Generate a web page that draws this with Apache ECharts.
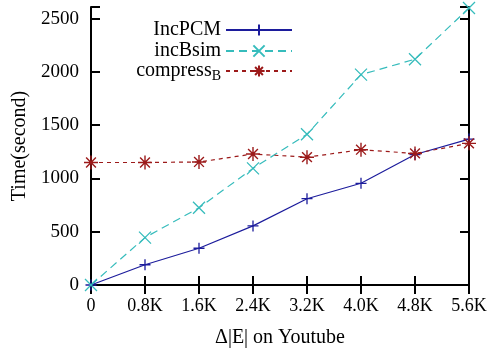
<!DOCTYPE html>
<html><head><meta charset="utf-8">
<script src="https://cdn.jsdelivr.net/npm/echarts@6/dist/echarts.min.js"></script>
<style>html,body{margin:0;padding:0;background:#fff}#c{width:490px;height:353px}</style>
</head><body><div id="c"></div>
<script>
var categories = ['0','0.8K','1.6K','2.4K','3.2K','4.0K','4.8K','5.6K'];
var incPCM = [0, 190, 345, 555, 810, 955, 1225, 1370];
var incBsim = [0, 445, 725, 1095, 1415, 1975, 2120, 2600];
var compressB = [1150, 1150, 1155, 1230, 1200, 1270, 1235, 1330];
var yTicks = [0, 500, 1000, 1500, 2000, 2500];

var FONT = 'Liberation Serif';
var plusPath = 'path://M0,5L10,5M5,0L5,10';
var crossPath = 'path://M0,0L10,10M10,0L0,10';
var starPath = 'path://M0,5L10,5M5,0L5,10M1.5,1.5L8.5,8.5M8.5,1.5L1.5,8.5';

var chart = echarts.init(document.getElementById('c'), null, {renderer:'canvas'});
function legendFor(name, top){
  return {
    data:[name], right:197, top:top, orient:'vertical', align:'right',
    itemWidth:66, itemHeight:14, itemGap:0, padding:0, selectedMode:false,
    textStyle:{fontFamily:FONT, fontSize:20, color:'#000',
      rich:{a:{fontFamily:FONT,fontSize:20,color:'#000'},b:{fontFamily:FONT,fontSize:14,color:'#000',verticalAlign:'bottom',padding:[10,0,0,0]}}},
    formatter:function(n){ return n==='compress' ? '{a|compress}{b|B}' : n; }
  };
}
var axisLine = {show:true, lineStyle:{color:'#000', width:2}};
chart.setOption({
  animation:false,
  grid:{left:91, right:21, top:7, bottom:66},
  legend:[legendFor('IncPCM',20), legendFor('incBsim',41), legendFor('compress',61)],
  xAxis:[{
    type:'category', data:categories, boundaryGap:false,
    axisLine:axisLine, axisTick:{show:true, inside:true, length:9, lineStyle:{color:'#000',width:2}},
    axisLabel:{fontFamily:FONT, fontSize:18, color:'#000', margin:12},
    splitLine:{show:false},
    name:'\u0394|E| on Youtube', nameLocation:'middle', nameGap:43,
    nameTextStyle:{fontFamily:FONT, fontSize:20, color:'#000'}
  },{
    type:'category', data:categories, boundaryGap:false, position:'top',
    axisLine:axisLine, axisTick:{show:true, inside:true, length:9, lineStyle:{color:'#000',width:2}},
    axisLabel:{show:false}, splitLine:{show:false}
  }],
  yAxis:[{
    type:'value', min:0, max:2610, interval:500,
    axisLine:axisLine, axisTick:{show:true, inside:true, length:9, lineStyle:{color:'#000',width:2}},
    axisLabel:{fontFamily:FONT, fontSize:19, color:'#000', margin:12,
      formatter:function(v){ return yTicks.indexOf(v)>=0 ? String(v) : ''; }},
    splitLine:{show:false},
    name:'Time(second)', nameLocation:'middle', nameGap:61, nameRotate:90,
    nameTextStyle:{fontFamily:FONT, fontSize:20, color:'#000'}
  },{
    type:'value', min:0, max:2610, interval:500, position:'right',
    axisLine:axisLine, axisTick:{show:true, inside:true, length:9, lineStyle:{color:'#000',width:2}},
    axisLabel:{show:false}, splitLine:{show:false}
  }],
  series:[
    {name:'IncPCM', type:'line', data:incPCM, symbol:plusPath, symbolSize:11,
     lineStyle:{color:'#1c1c9c', width:1.2},
     itemStyle:{color:'#1c1c9c', borderColor:'#1c1c9c', borderWidth:1.3}},
    {name:'incBsim', type:'line', data:incBsim, symbol:crossPath, symbolSize:12,
     lineStyle:{color:'#36bcbc', width:1.2, type:[8,5]},
     itemStyle:{color:'#36bcbc', borderColor:'#36bcbc', borderWidth:1.3}},
    {name:'compress', type:'line', data:compressB, symbol:starPath, symbolSize:14,
     lineStyle:{color:'#9c1a1a', width:1.2, type:[4,4]},
     itemStyle:{color:'#9c1a1a', borderColor:'#9c1a1a', borderWidth:1.4}}
  ]
});
</script></body></html>
